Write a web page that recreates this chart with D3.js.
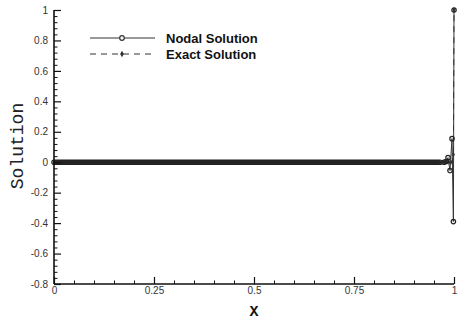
<!DOCTYPE html>
<html>
<head>
<meta charset="utf-8">
<script src="https://cdn.jsdelivr.net/npm/d3@7"></script>
<style>
  html, body { margin: 0; padding: 0; background: #fff; }
  svg { display: block; }
</style>
</head>
<body>
<svg id="chart" width="463" height="320"></svg>
<script>
// ---- data ----
const nodalX = [
  0,0.005,0.01,0.015,0.02,0.025,0.03,0.035,0.04,0.045,0.05,0.055,0.06,0.065,0.07,0.075,0.08,0.085,0.09,0.095,
  0.1,0.105,0.11,0.115,0.12,0.125,0.13,0.135,0.14,0.145,0.15,0.155,0.16,0.165,0.17,0.175,0.18,0.185,0.19,0.195,
  0.2,0.205,0.21,0.215,0.22,0.225,0.23,0.235,0.24,0.245,0.25,0.255,0.26,0.265,0.27,0.275,0.28,0.285,0.29,0.295,
  0.3,0.305,0.31,0.315,0.32,0.325,0.33,0.335,0.34,0.345,0.35,0.355,0.36,0.365,0.37,0.375,0.38,0.385,0.39,0.395,
  0.4,0.405,0.41,0.415,0.42,0.425,0.43,0.435,0.44,0.445,0.45,0.455,0.46,0.465,0.47,0.475,0.48,0.485,0.49,0.495,
  0.5,0.505,0.51,0.515,0.52,0.525,0.53,0.535,0.54,0.545,0.55,0.555,0.56,0.565,0.57,0.575,0.58,0.585,0.59,0.595,
  0.6,0.605,0.61,0.615,0.62,0.625,0.63,0.635,0.64,0.645,0.65,0.655,0.66,0.665,0.67,0.675,0.68,0.685,0.69,0.695,
  0.7,0.705,0.71,0.715,0.72,0.725,0.73,0.735,0.74,0.745,0.75,0.755,0.76,0.765,0.77,0.775,0.78,0.785,0.79,0.795,
  0.8,0.805,0.81,0.815,0.82,0.825,0.83,0.835,0.84,0.845,0.85,0.855,0.86,0.865,0.87,0.875,0.88,0.885,0.89,0.895,
  0.9,0.905,0.91,0.915,0.92,0.925,0.93,0.935,0.94,0.945,0.95,0.955,0.96,0.965,
  0.975,0.98,0.985,0.99,0.995,0.9985,1];
const nodalY = [
  0,0,0,0,0,0,0,0,0,0,0,0,0,0,0,0,0,0,0,0,
  0,0,0,0,0,0,0,0,0,0,0,0,0,0,0,0,0,0,0,0,
  0,0,0,0,0,0,0,0,0,0,0,0,0,0,0,0,0,0,0,0,
  0,0,0,0,0,0,0,0,0,0,0,0,0,0,0,0,0,0,0,0,
  0,0,0,0,0,0,0,0,0,0,0,0,0,0,0,0,0,0,0,0,
  0,0,0,0,0,0,0,0,0,0,0,0,0,0,0,0,0,0,0,0,
  0,0,0,0,0,0,0,0,0,0,0,0,0,0,0,0,0,0,0,0,
  0,0,0,0,0,0,0,0,0,0,0,0,0,0,0,0,0,0,0,0,
  0,0,0,0,0,0,0,0,0,0,0,0,0,0,0,0,0,0,0,0,
  0,0,0,0,0,0,0,0,0,0,0,0,0,0,
  0,0.005,0.03,-0.055,0.155,-0.39,1];
const exactX = nodalX;
const exactY = [
  0,0,0,0,0,0,0,0,0,0,0,0,0,0,0,0,0,0,0,0,
  0,0,0,0,0,0,0,0,0,0,0,0,0,0,0,0,0,0,0,0,
  0,0,0,0,0,0,0,0,0,0,0,0,0,0,0,0,0,0,0,0,
  0,0,0,0,0,0,0,0,0,0,0,0,0,0,0,0,0,0,0,0,
  0,0,0,0,0,0,0,0,0,0,0,0,0,0,0,0,0,0,0,0,
  0,0,0,0,0,0,0,0,0,0,0,0,0,0,0,0,0,0,0,0,
  0,0,0,0,0,0,0,0,0,0,0,0,0,0,0,0,0,0,0,0,
  0,0,0,0,0,0,0,0,0,0,0,0,0,0,0,0,0,0,0,0,
  0,0,0,0,0,0,0,0,0,0,0,0,0,0,0,0,0,0,0,0,
  0,0,0,0,0,0,0,0,0,0,0,0,0,0,
  0,0,0,0,0.001,0.05,1];
const xTicks = [0, 0.25, 0.5, 0.75, 1];
const xTickLabels = ["0", "0.25", "0.5", "0.75", "1"];
const xMinorTicks = [0.05,0.1,0.15,0.2,0.3,0.35,0.4,0.45,0.55,0.6,0.65,0.7,0.8,0.85,0.9,0.95];
const yTicks = [-0.8, -0.6, -0.4, -0.2, 0, 0.2, 0.4, 0.6, 0.8, 1];
const yTickLabels = ["-0.8", "-0.6", "-0.4", "-0.2", "0", "0.2", "0.4", "0.6", "0.8", "1"];
const yMinorTicks = [-0.76,-0.72,-0.68,-0.64,-0.56,-0.52,-0.48,-0.44,-0.36,-0.32,-0.28,-0.24,
  -0.16,-0.12,-0.08,-0.04,0.04,0.08,0.12,0.16,0.24,0.28,0.32,0.36,0.44,0.48,0.52,0.56,
  0.64,0.68,0.72,0.76,0.84,0.88,0.92,0.96];
const seriesNames = ["Nodal Solution", "Exact Solution"];

// ---- chart ----
const svg = d3.select("#chart");
const x = d3.scaleLinear().domain([0, 1]).range([54, 454]);
const y = d3.scaleLinear().domain([-0.8, 1]).range([284, 10]);
const ink = "#111";

const nodal = nodalX.map((d, i) => [d, nodalY[i]]);
const exact = exactX.map((d, i) => [d, exactY[i]]);
const line = d3.line().x(d => x(d[0])).y(d => y(d[1]));

svg.append("path").datum(exact).attr("d", line)
  .attr("fill", "none").attr("stroke", "#333").attr("stroke-width", 1)
  .attr("stroke-dasharray", "6,5");
svg.append("path").datum(nodal).attr("d", line)
  .attr("fill", "none").attr("stroke", "#333").attr("stroke-width", 1);

const diamond = d3.symbol().type(d3.symbolDiamond).size(8);
svg.append("g").selectAll("path").data(exact).join("path")
  .attr("d", diamond)
  .attr("transform", d => `translate(${x(d[0])},${y(d[1])})`)
  .attr("fill", "#333").attr("stroke", "none");
svg.append("g").selectAll("circle").data(nodal).join("circle")
  .attr("cx", d => x(d[0])).attr("cy", d => y(d[1])).attr("r", 2.2)
  .attr("fill", "none").attr("stroke", "#222").attr("stroke-width", 1.2);

// axes
const xAxis = d3.axisBottom(x).tickValues(xTicks).tickSize(-7).tickPadding(3)
  .tickFormat((d, i) => xTickLabels[i]);
const xMinor = d3.axisBottom(x).tickValues(xMinorTicks).tickSize(-3.5).tickFormat("");
const yAxis = d3.axisLeft(y).tickValues(yTicks).tickSize(-7).tickPadding(6)
  .tickFormat((d, i) => yTickLabels[i]);
const yMinor = d3.axisLeft(y).tickValues(yMinorTicks).tickSize(-3.5).tickFormat("");

function style(g) {
  g.select(".domain").attr("stroke", ink).attr("stroke-width", 1.6);
  g.selectAll(".tick line").attr("stroke", ink).attr("stroke-width", 1.2);
  g.selectAll(".tick text").attr("fill", "#333")
    .style("font-family", "'Liberation Sans', Arial, sans-serif").style("font-size", "10px");
}
const gxm = svg.append("g").attr("transform", "translate(0,284)").call(xMinor);
gxm.select(".domain").remove();
gxm.selectAll(".tick line").attr("stroke", ink).attr("stroke-width", 1);
const gym = svg.append("g").attr("transform", "translate(54,0)").call(yMinor);
gym.select(".domain").remove();
gym.selectAll(".tick line").attr("stroke", ink).attr("stroke-width", 1);
svg.append("g").attr("transform", "translate(0,284)").call(xAxis).call(style)
  .select(".domain").attr("d", "M54,0H454");
svg.append("g").attr("transform", "translate(54,0)").call(yAxis).call(style)
  .select(".domain").attr("d", "M0,10V284");

// axis titles
svg.append("text").attr("x", 254).attr("y", 316).attr("text-anchor", "middle")
  .style("font-family", "'Liberation Mono', 'Courier New', monospace")
  .style("font-weight", "bold").style("font-size", "15px").attr("fill", "#111").text("X");
svg.append("text").attr("transform", "translate(23,146) rotate(-90)")
  .attr("text-anchor", "middle")
  .style("font-family", "'Liberation Mono', 'Courier New', monospace")
  .style("font-size", "18px").attr("fill", "#222").text("Solution");

// legend
const leg = svg.append("g");
const legY = [38, 54];
leg.append("line").attr("x1", 90).attr("x2", 155).attr("y1", legY[0]).attr("y2", legY[0])
  .attr("stroke", "#333").attr("stroke-width", 1);
leg.append("circle").attr("cx", 122).attr("cy", legY[0]).attr("r", 2.3)
  .attr("fill", "#fff").attr("stroke", "#333").attr("stroke-width", 1.2);
leg.append("line").attr("x1", 90).attr("x2", 155).attr("y1", legY[1]).attr("y2", legY[1])
  .attr("stroke", "#333").attr("stroke-width", 1).attr("stroke-dasharray", "6,5");
leg.append("path").attr("d", d3.symbol().type(d3.symbolDiamond).size(12)())
  .attr("transform", `translate(122,${legY[1]})`).attr("fill", "#333");
seriesNames.forEach((n, i) => {
  leg.append("text").attr("x", 166).attr("y", legY[i]).attr("dy", "0.35em")
    .style("font-family", "'Liberation Sans', Arial, sans-serif")
    .style("font-weight", "bold").style("font-size", "13px").attr("fill", "#111").text(n);
});
</script>
</body>
</html>
